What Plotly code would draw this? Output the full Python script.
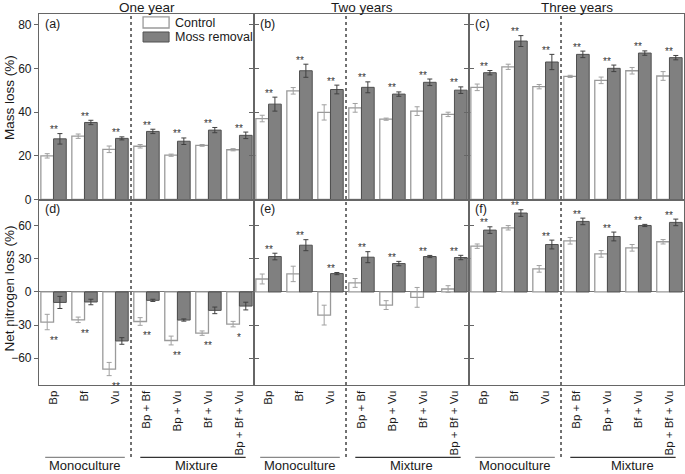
import plotly.graph_objects as go
from plotly.subplots import make_subplots

species = ["Bp", "Bf", "Vu", "Bp + Bf", "Bp + Vu", "Bf + Vu", "Bp + Bf + Vu"]
years = ["One year", "Two years", "Three years"]
panel_labels = ["(a)", "(b)", "(c)", "(d)", "(e)", "(f)"]

# Mass loss (%)
a_ctrl = [20.0, 29.0, 23.0, 24.4, 20.3, 24.8, 22.8]
a_ctrl_err = [1.0, 1.0, 1.5, 0.8, 0.5, 0.4, 0.5]
a_moss = [27.8, 35.3, 28.0, 31.2, 26.7, 31.8, 29.4]
a_moss_err = [2.4, 1.0, 0.7, 1.0, 1.5, 1.2, 1.5]

b_ctrl = [37.1, 49.8, 39.9, 42.0, 36.8, 40.5, 39.0]
b_ctrl_err = [1.5, 1.5, 3.5, 2.0, 0.5, 2.0, 1.0]
b_moss = [43.7, 59.0, 50.4, 51.4, 48.3, 53.7, 50.1]
b_moss_err = [3.2, 3.0, 2.0, 2.5, 1.0, 1.5, 1.5]

c_ctrl = [51.4, 60.8, 51.7, 56.4, 54.6, 59.0, 56.6]
c_ctrl_err = [1.5, 1.2, 1.0, 0.5, 1.5, 1.5, 2.0]
c_moss = [58.1, 72.6, 63.0, 66.5, 60.1, 67.1, 65.0]
c_moss_err = [1.0, 2.5, 3.5, 1.5, 1.5, 1.0, 1.0]

# Net nitrogen loss (%)
d_ctrl = [-27.3, -25.3, -70.0, -26.8, -44.1, -37.4, -29.2]
d_ctrl_err = [7.0, 2.5, 6.0, 3.5, 4.0, 2.0, 2.5]
d_moss = [-9.5, -9.1, -44.5, -7.6, -25.5, -16.7, -12.8]
d_moss_err = [5.5, 2.5, 3.0, 1.0, 1.0, 3.0, 3.5]

e_ctrl = [11.8, 16.4, -21.0, 8.2, -11.9, -4.9, 2.7]
e_ctrl_err = [4.5, 7.0, 9.0, 4.0, 4.0, 9.0, 3.0]
e_moss = [32.2, 42.5, 16.7, 31.6, 25.8, 32.2, 31.3]
e_moss_err = [3.0, 5.0, 1.0, 5.0, 2.0, 1.0, 2.0]

f_ctrl = [41.6, 58.3, 21.0, 46.5, 34.6, 40.1, 45.6]
f_ctrl_err = [2.0, 2.0, 3.0, 3.0, 3.0, 3.0, 2.0]
f_moss = [56.2, 71.7, 43.1, 64.1, 50.4, 60.4, 63.2]
f_moss_err = [3.0, 3.0, 4.0, 3.0, 4.0, 1.0, 3.0]

sig_a = ["**"] * 7
sig_b = ["**"] * 7
sig_c = ["**"] * 7
sig_d = ["**", "**", "**", "**", "**", "**", "*"]
sig_e = ["**"] * 7
sig_f = ["**"] * 7

FONT = "Liberation Sans, Arial, sans-serif"
TXT = "#1a1a1a"
xs = list(range(len(species)))

panels = [
    (1, 1, a_ctrl, a_ctrl_err, a_moss, a_moss_err, sig_a),
    (1, 2, b_ctrl, b_ctrl_err, b_moss, b_moss_err, sig_b),
    (1, 3, c_ctrl, c_ctrl_err, c_moss, c_moss_err, sig_c),
    (2, 1, d_ctrl, d_ctrl_err, d_moss, d_moss_err, sig_d),
    (2, 2, e_ctrl, e_ctrl_err, e_moss, e_moss_err, sig_e),
    (2, 3, f_ctrl, f_ctrl_err, f_moss, f_moss_err, sig_f),
]

fig = make_subplots(rows=2, cols=3, horizontal_spacing=0, vertical_spacing=0)

annotations = []
for i, (row, col, c, ce, m, me, sig) in enumerate(panels):
    fig.add_trace(go.Bar(
        x=xs, y=c, name="Control", showlegend=False,
        marker=dict(color="white", line=dict(color="#9a9a9a", width=1.3)),
        error_y=dict(type="data", array=ce, color="#a0a0a0", thickness=1, width=2.5),
    ), row=row, col=col)
    fig.add_trace(go.Bar(
        x=xs, y=m, name="Moss removal", showlegend=False,
        marker=dict(color="#808080", line=dict(color="#505050", width=1)),
        error_y=dict(type="data", array=me, color="#404040", thickness=1, width=2.5),
    ), row=row, col=col)
    idx = (row - 1) * 3 + col
    xr = "x" if idx == 1 else f"x{idx}"
    yr = "y" if idx == 1 else f"y{idx}"
    for k in xs:
        hi = max(c[k] + ce[k], m[k] + me[k])
        lo = min(c[k] - ce[k], m[k] - me[k])
        if hi > 0:
            annotations.append(dict(x=k, y=hi, xref=xr, yref=yr, text=sig[k],
                                    showarrow=False, yanchor="bottom", yshift=-3.5,
                                    font=dict(size=10, color="#333333", family=FONT)))
        else:
            annotations.append(dict(x=k, y=lo, xref=xr, yref=yr, text=sig[k],
                                    showarrow=False, yanchor="top", yshift=-3,
                                    font=dict(size=10, color="#333333", family=FONT)))
    annotations.append(dict(x=0.02, y=0.997, xref=xr + " domain", yref=yr + " domain",
                            text=panel_labels[i], showarrow=False, xanchor="left", yanchor="top",
                            font=dict(size=12.5, color=TXT, family=FONT)))

AX = "#666666"
for idx in range(1, 7):
    row = 1 if idx <= 3 else 2
    col = idx if idx <= 3 else idx - 3
    fig.update_xaxes(range=[-0.47, 6.47], showline=True, mirror=True, linecolor=AX, linewidth=1.2,
                     ticks="", tickvals=xs, ticktext=species, tickangle=-90, showgrid=False,
                     zeroline=False, showticklabels=(row == 2), automargin=False,
                     tickfont=dict(size=11.5, color=TXT, family=FONT), row=row, col=col)
    common = dict(showline=True, mirror="ticks", linecolor=AX, linewidth=1.2, ticks="outside",
                  ticklen=4, tickcolor=AX, showgrid=False, showticklabels=(col == 1),
                  automargin=False, tickfont=dict(size=12, color=TXT, family=FONT))
    if row == 1:
        fig.update_yaxes(range=[0, 85], tickvals=[0, 20, 40, 60, 80], zeroline=False,
                         row=row, col=col, **common)
    else:
        fig.update_yaxes(range=[-84.5, 84], tickvals=[-60, -30, 0, 30, 60], zeroline=True,
                         zerolinecolor="#777777", zerolinewidth=1.2, row=row, col=col, **common)

shapes = []
for col in range(1, 4):
    xr = "x" if col == 1 else f"x{col}"
    shapes.append(dict(type="line", xref=xr, yref="paper", x0=2.5, x1=2.5, y0=-0.194, y1=1,
                       line=dict(color="#444444", width=1.5, dash="dot")))
    shapes.append(dict(type="line", xref=xr, yref="paper", x0=-0.27, x1=2.3, y0=-0.195, y1=-0.195,
                       line=dict(color="#888888", width=1.2)))
    shapes.append(dict(type="line", xref=xr, yref="paper", x0=2.8, x1=6.2, y0=-0.195, y1=-0.195,
                       line=dict(color="#333333", width=1.2)))
    annotations.append(dict(x=1.0, y=-0.218, xref=xr, yref="paper", text="Monoculture",
                            showarrow=False, yanchor="middle",
                            font=dict(size=13, color=TXT, family=FONT)))
    annotations.append(dict(x=4.6 if col < 3 else 4.8, y=-0.218, xref=xr, yref="paper", text="Mixture",
                            showarrow=False, yanchor="middle",
                            font=dict(size=13, color=TXT, family=FONT)))
    annotations.append(dict(x=0.5, y=1, xref=xr + " domain", yref="paper", text=years[col - 1],
                            showarrow=False, yanchor="middle", yshift=7,
                            font=dict(size=13.5, color=TXT, family=FONT)))

# legend (drawn inside panel a)
shapes.append(dict(type="rect", xref="x domain", yref="y domain", x0=0.484, x1=0.605, y0=0.9245, y1=0.984,
                   fillcolor="white", line=dict(color="#9a9a9a", width=1.3)))
shapes.append(dict(type="rect", xref="x domain", yref="y domain", x0=0.484, x1=0.605, y0=0.849, y1=0.903,
                   fillcolor="#808080", line=dict(color="#505050", width=1)))
annotations.append(dict(x=0.623, y=0.954, xref="x domain", yref="y domain", text="Control",
                        showarrow=False, xanchor="left", yanchor="middle",
                        font=dict(size=12.5, color=TXT, family=FONT)))
annotations.append(dict(x=0.623, y=0.876, xref="x domain", yref="y domain", text="Moss removal",
                        showarrow=False, xanchor="left", yanchor="middle",
                        font=dict(size=12.5, color=TXT, family=FONT)))

# y-axis titles
annotations.append(dict(x=-0.0457, y=0.775, xref="paper", yref="paper", text="Mass loss (%)",
                        showarrow=False, textangle=-90, xanchor="center", yanchor="middle",
                        font=dict(size=13.5, color=TXT, family=FONT)))
annotations.append(dict(x=-0.0457, y=0.259, xref="paper", yref="paper", text="Net nitrogen loss (%)",
                        showarrow=False, textangle=-90, xanchor="center", yanchor="middle",
                        font=dict(size=13.5, color=TXT, family=FONT)))

fig.update_layout(
    width=685, height=474,
    margin=dict(l=39, r=1, t=14, b=89, autoexpand=False),
    plot_bgcolor="white", paper_bgcolor="white",
    barmode="group", bargap=0.18, bargroupgap=0,
    showlegend=False,
    shapes=shapes, annotations=annotations,
    font=dict(family=FONT, color=TXT),
)

fig.write_html("out.html", config={"displayModeBar": False},
               post_script="document.body.style.margin='0';document.body.style.padding='0';")
